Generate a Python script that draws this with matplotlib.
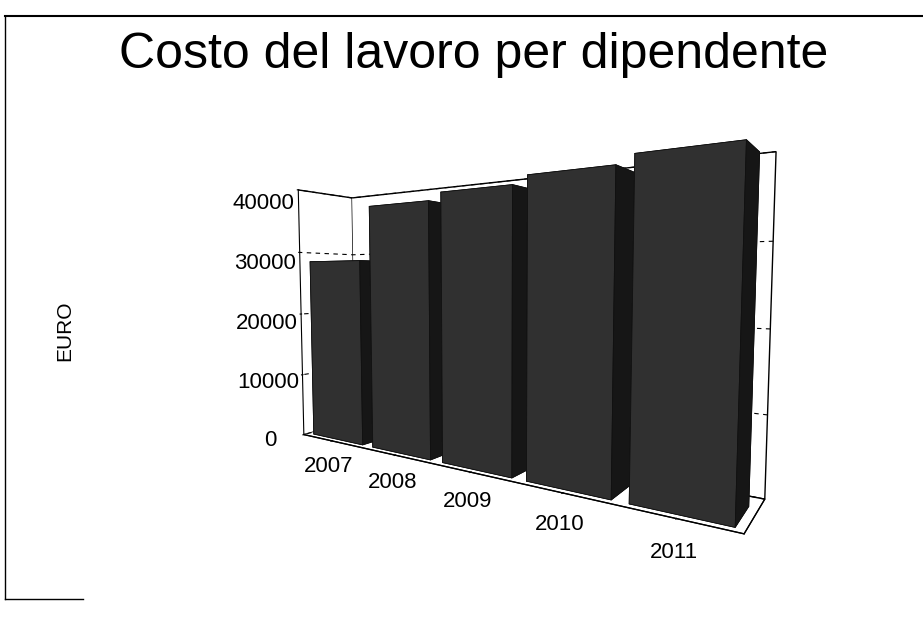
import numpy as np
import matplotlib.pyplot as plt
from matplotlib.lines import Line2D

plt.rcParams['font.family'] = ['Liberation Sans', 'DejaVu Sans']

# Data
anni = ['2007', '2008', '2009', '2010', '2011']
costo = [28500, 36500, 37500, 38500, 39500]
z_ticks = [0, 10000, 20000, 30000, 40000]

fig = plt.figure(figsize=(9.23, 6.24), dpi=100)

# page frame of the scanned slide
fig.add_artist(Line2D([0.005, 1.0], [0.975, 0.975], color='black', lw=1.5))
fig.add_artist(Line2D([0.005, 0.005], [0.04, 0.975], color='black', lw=1.0))
fig.add_artist(Line2D([0.005, 0.09], [0.04, 0.04], color='black', lw=1.0))

fig.text(0.513, 0.912, 'Costo del lavoro per dipendente', ha='center', va='center',
         fontsize=36)

ax = fig.add_axes([0.078, 0.035, 0.9, 0.88], projection='3d')
ax.set_proj_type('persp', focal_length=0.2)
ax.view_init(elev=4, azim=-56)

x = np.arange(len(anni))
ax.bar3d(x - 0.42, np.zeros(len(x)), np.zeros(len(x)), 0.84, 0.3, costo,
         color='#363636', edgecolor='#111111', linewidth=0.6, shade=True)

ax.set_xlim(-0.5, len(anni) - 0.5)
ax.set_ylim(-0.05, 0.45)
ax.set_zlim(0, 40000)
ax.set_box_aspect((2.4, 0.4, 1.4), zoom=1.02)

ax.set_xticks(x)
ax.set_xticklabels(anni, fontsize=16)
ax.set_yticks([])
ax.set_zticks(z_ticks)
ax.set_zticklabels([str(v) for v in z_ticks], fontsize=16)
ax.zaxis.set_ticks_position('lower')
ax.tick_params(axis='z', pad=14)
ax.tick_params(axis='x', pad=4)

# only the horizontal value gridlines, dashed, on the walls
ax.xaxis._axinfo['grid'].update(linewidth=0)
ax.yaxis._axinfo['grid'].update(linewidth=0)
ax.zaxis._axinfo['grid'].update(color='black', linewidth=0.8, linestyle=(0, (4, 4)))

for axis in (ax.xaxis, ax.yaxis, ax.zaxis):
    axis.set_pane_color((1, 1, 1, 1))
    axis.pane.set_edgecolor('black')
    axis.line.set_color('black')

fig.text(0.07, 0.47, 'EURO', rotation=90, ha='center', va='center', fontsize=15)

fig.savefig('out.png', dpi=100)
